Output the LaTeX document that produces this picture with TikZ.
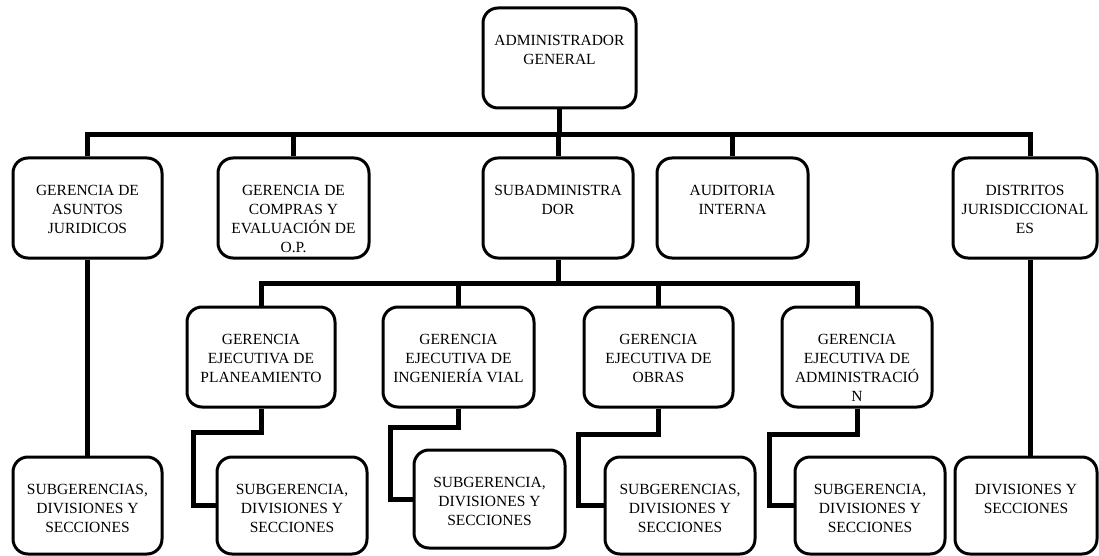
\documentclass[tikz,border=0pt]{standalone}
\usepackage{fontspec}
\setmainfont{Liberation Serif}
\newcommand{\bt}[3]{\parbox[c][#2][t]{#1}{\centering\vspace*{27pt}#3\par}}
\begin{document}
\begin{tikzpicture}[x=1pt,y=-1pt,
  box/.style={draw=black, line width=3pt, rounded corners=15pt, fill=white, inner sep=0pt,
    font=\fontsize{15.5pt}{19pt}\selectfont},
  conn/.style={draw=black, line width=5pt, line join=miter}]
\useasboundingbox (0,0) rectangle (1099,556);
% top
\node[box] (top) at (559.5,58) {\bt{153pt}{100pt}{ADMINISTRADOR\\GENERAL}};
% row 2
\node[box] (asuntos) at (87.5,208) {\bt{149pt}{100pt}{GERENCIA DE\\ASUNTOS\\JURIDICOS}};
\node[box] (compras) at (293.5,208) {\bt{151pt}{100pt}{GERENCIA DE\\COMPRAS Y\\EVALUACIÓN DE\\O.P.}};
\node[box] (subadmin) at (558,208) {\bt{150pt}{100pt}{SUBADMINISTRA\\DOR}};
\node[box] (auditoria) at (732.5,208) {\bt{151pt}{100pt}{AUDITORIA\\INTERNA}};
\node[box] (distritos) at (1025,208) {\bt{144pt}{100pt}{DISTRITOS\\JURISDICCIONAL\\ES}};
% row 3
\node[box] (plan) at (261,357) {\bt{148pt}{100pt}{GERENCIA\\EJECUTIVA DE\\PLANEAMIENTO}};
\node[box] (ing) at (458.5,357) {\bt{151pt}{100pt}{GERENCIA\\EJECUTIVA DE\\INGENIERÍA VIAL}};
\node[box] (obras) at (658.5,357) {\bt{149pt}{100pt}{GERENCIA\\EJECUTIVA DE\\OBRAS}};
\node[box] (admin) at (857,357) {\bt{150pt}{100pt}{GERENCIA\\EJECUTIVA DE\\ADMINISTRACIÓ\\N}};
% row 4
\node[box] (leftsub) at (87.5,505.5) {\bt{149pt}{97pt}{SUBGERENCIAS,\\DIVISIONES Y\\SECCIONES}};
\node[box] (plansub) at (292,505.5) {\bt{150pt}{97pt}{SUBGERENCIA,\\DIVISIONES Y\\SECCIONES}};
\node[box] (ingsub) at (489.5,499) {\bt{151pt}{98pt}{SUBGERENCIA,\\DIVISIONES Y\\SECCIONES}};
\node[box] (obrassub) at (680,505.5) {\bt{150pt}{97pt}{SUBGERENCIAS,\\DIVISIONES Y\\SECCIONES}};
\node[box] (adminsub) at (870,505.5) {\bt{150pt}{97pt}{SUBGERENCIA,\\DIVISIONES Y\\SECCIONES}};
\node[box] (divsub) at (1026,505.5) {\bt{142pt}{97pt}{DIVISIONES Y\\SECCIONES}};
% bus coordinates
\coordinate (b1) at (0,135);
\coordinate (b2) at (0,283);
\coordinate (dR) at ([xshift=5pt]distritos.north);
\coordinate (dRs) at ([xshift=5pt]distritos.south);
\coordinate (k1) at (193,432);
\coordinate (k2) at (390,427);
\coordinate (k3) at (578,434);
\coordinate (k4) at (769,434);
% connectors
\draw[conn] (top.south) -- (top.south |- b1);
\draw[conn] (asuntos.north) -- (asuntos.north |- b1) -- (dR |- b1) -- (dR);
\draw[conn] (compras.north) -- (compras.north |- b1);
\draw[conn] (subadmin.north) -- (subadmin.north |- b1);
\draw[conn] (auditoria.north) -- (auditoria.north |- b1);
\draw[conn] (asuntos.south) -- (leftsub.north);
\draw[conn] (dRs) -- (dRs |- divsub.north);
\draw[conn] (subadmin.south) -- (subadmin.south |- b2);
\draw[conn] (plan.north) |- (admin.north |- b2) -- (admin.north);
\draw[conn] (ing.north) -- (ing.north |- b2);
\draw[conn] (obras.north) -- (obras.north |- b2);
\draw[conn] (plan.south) |- (k1) |- (plansub.west);
\draw[conn] (ing.south) |- (k2) |- (ingsub.west);
\draw[conn] (obras.south) |- (k3) |- (obrassub.west);
\draw[conn] (admin.south) |- (k4) |- (adminsub.west);
\end{tikzpicture}
\end{document}
